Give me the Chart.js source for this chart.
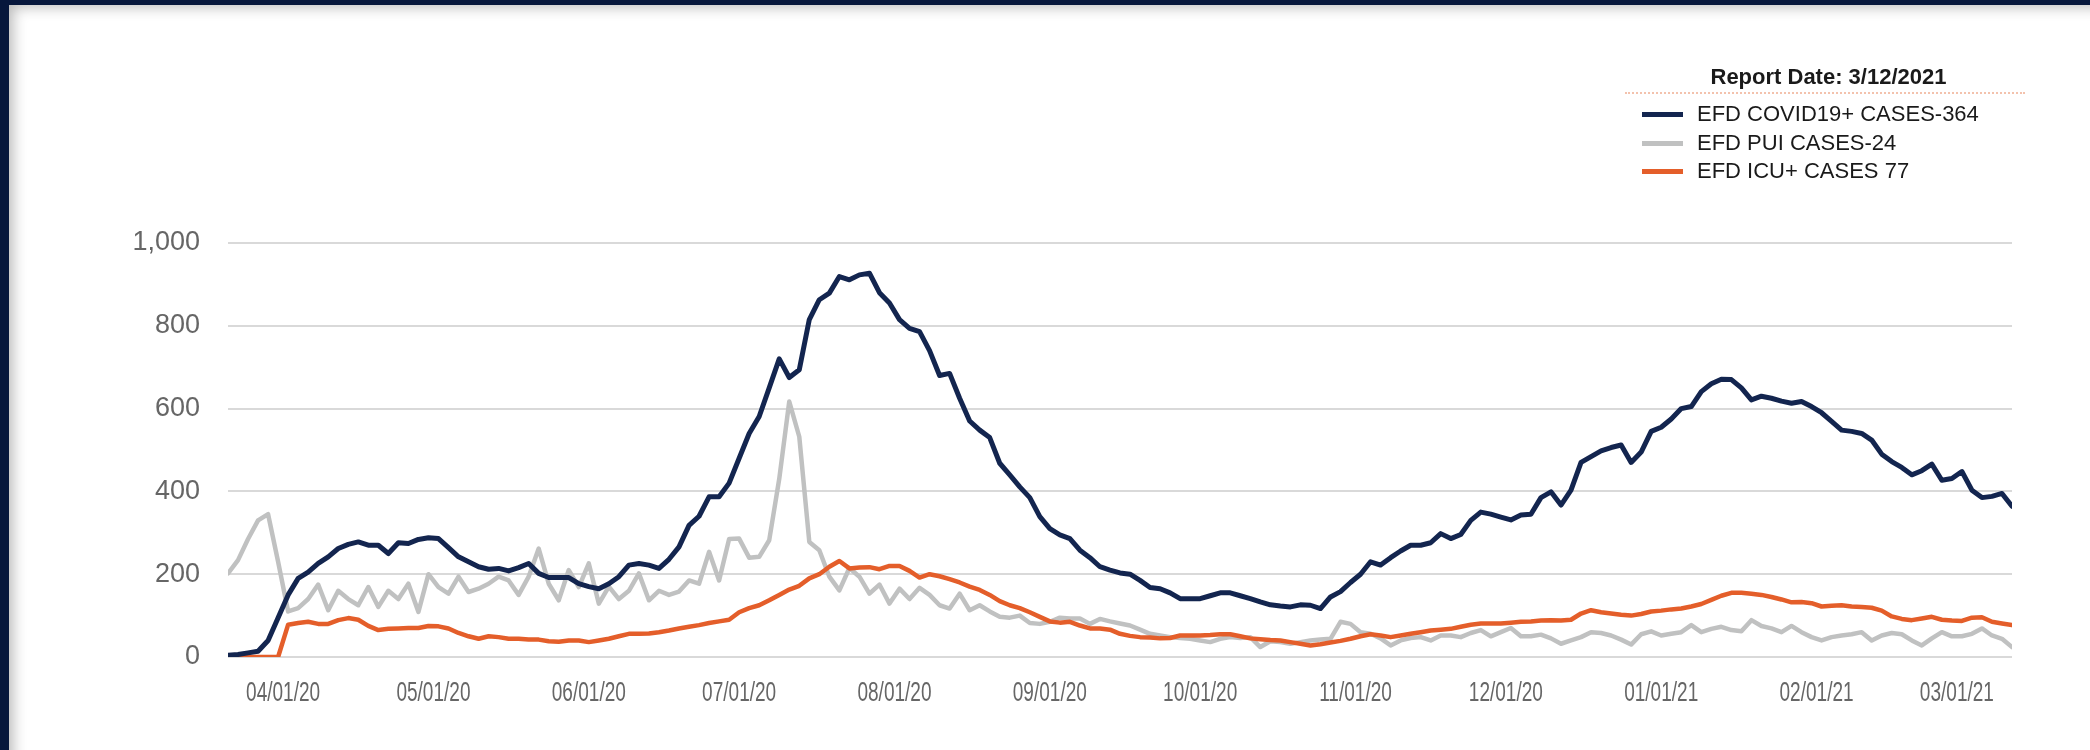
<!DOCTYPE html>
<html>
<head>
<meta charset="utf-8">
<script src="https://cdn.jsdelivr.net/npm/chart.js@4"></script>
<style>
  html, body { margin: 0; padding: 0; }
  body { width: 2090px; height: 750px; background: #07173c; position: relative; overflow: hidden; font-family: "Liberation Sans", Arial, sans-serif; }
  #sheet { position: absolute; left: 9px; top: 5px; right: 0; bottom: 0; background: #fff;
           box-shadow: inset 12px 10px 14px -8px rgba(0,0,0,0.28); }
  #chart { position: absolute; left: 0; top: 0; }
  #legend { position: absolute; left: 1620px; top: 62px; width: 405px; color: #1a1a1a; }
  #legend .title { text-align: center; font-weight: bold; font-size: 22px; line-height: 30px; padding-left: 12px; }
  #legend .sep { border-top: 2px dotted #f3c2ad; margin: 0 0 6px 5px; }
  #legend .item { position: relative; height: 28.5px; font-size: 22px; line-height: 28.5px; padding-left: 77px; }
  #legend .swatch { position: absolute; left: 22px; top: 12px; width: 41px; height: 5px; }
</style>
</head>
<body>
<div id="sheet"></div>
<canvas id="chart" width="2090" height="750"></canvas>
<div id="legend"></div>
<script>
// one value every 2 days, starting 3/21/2020 and ending 3/12/2021
const startDate = '2020-03-21';
const dayStep = 2;

const seriesNames = ['EFD COVID19+ CASES-364', 'EFD PUI CASES-24', 'EFD ICU+ CASES 77'];

const covidCases = [
  4, 6, 10, 14, 40, 95, 150, 190, 205, 226,
  242, 262, 272, 278, 270, 270, 250, 276, 274, 284,
  288, 286, 264, 242, 230, 218, 212, 214, 208, 216,
  226, 202, 192, 192, 192, 177, 170, 165, 177, 194,
  222, 226, 222, 214, 236, 266, 318, 340, 387, 387,
  420, 480, 540, 581, 650, 720, 675, 694, 815, 863,
  879, 919, 911, 923, 927, 880, 855, 815, 794, 786,
  740, 680, 685, 625, 570, 548, 530, 468, 440, 411,
  385, 339, 310, 295, 286, 258, 240, 218, 210, 203,
  200, 185, 168, 165, 155, 141, 141, 141, 148, 155,
  155, 148, 141, 133, 126, 123, 121, 126, 125, 117,
  145, 158, 180, 200, 230, 222, 240, 256, 270, 270,
  276, 298, 286, 296, 330, 350, 345, 338, 331, 343,
  345, 385, 399, 367, 403, 470, 484, 498, 506, 512,
  470, 495, 545, 555, 575, 600, 605, 641, 660, 671,
  670, 650, 621, 630, 625, 618, 613, 617, 605, 590,
  569, 548, 545, 540, 524, 490, 472, 458, 440, 450,
  466, 427, 431, 448, 403, 385, 388, 395, 364
];

const puiCases = [
  202, 234, 285, 330, 345, 230, 110, 118, 140, 175,
  113, 160, 140, 125, 169, 121, 160, 140, 177, 109,
  200, 169, 153, 194, 157, 165, 177, 194, 185, 150,
  194, 262, 177, 137, 210, 169, 226, 129, 170, 140,
  160, 202, 137, 160, 150, 158, 185, 177, 254, 185,
  285, 286, 240, 242, 282, 430, 617, 532, 278, 258,
  194, 161, 215, 194, 153, 175, 129, 165, 140, 167,
  150, 125, 117, 153, 113, 125, 110, 97, 95, 100,
  82, 80, 85, 95, 93, 93, 80, 92, 86, 81,
  76, 66, 56, 52, 48, 46, 44, 40, 36, 44,
  48, 46, 48, 24, 38, 36, 32, 36, 40, 42,
  44, 85, 80, 60, 56, 45, 28, 40, 46, 48,
  40, 52, 52, 48, 58, 65, 50, 60, 70, 50,
  50, 54, 45, 32, 40, 48, 60, 58, 52, 42,
  30, 55, 62, 52, 56, 60, 77, 60, 68, 73,
  65, 62, 89, 75, 69, 60, 75, 60, 48, 40,
  48, 52, 55, 60, 40, 52, 58, 55, 40, 28,
  45, 60, 50, 50, 56, 69, 52, 44, 24
];

const icuCases = [
  0, 0, 0, 0, 0, 0, 78, 82, 85, 80,
  80, 89, 94, 90, 75, 65, 68, 69, 70, 70,
  75, 74, 69, 58, 50, 44, 50, 48, 44, 44,
  42, 42, 38, 37, 40, 40, 36, 40, 44, 50,
  56, 56, 57, 60, 64, 69, 73, 77, 82, 86,
  90, 108, 118, 125, 137, 150, 163, 172, 190, 200,
  218, 232, 214, 216, 217, 212, 220, 220, 208, 192,
  200, 195, 188, 180, 170, 162, 150, 135, 125, 118,
  108, 97, 86, 83, 85, 76, 69, 69, 66, 56,
  51, 48, 47, 45, 46, 52, 52, 52, 53, 55,
  55, 50, 45, 43, 41, 40, 36, 32, 28, 31,
  35, 39, 44, 50, 55, 52, 48, 52, 56, 60,
  64, 66, 68, 73, 78, 81, 81, 81, 83, 85,
  86, 88, 89, 88, 90, 105, 113, 108, 105, 102,
  100, 104, 110, 112, 115, 117, 122, 128, 138, 148,
  155, 155, 153, 150, 145, 139, 132, 133, 130, 122,
  124, 125, 122, 121, 119, 112, 98, 92, 89, 93,
  97, 90, 88, 87, 95, 96, 85, 81, 77
];

const tickDates = ['2020-04-01', '2020-05-01', '2020-06-01', '2020-07-01', '2020-08-01', '2020-09-01',
                   '2020-10-01', '2020-11-01', '2020-12-01', '2021-01-01', '2021-02-01', '2021-03-01'];
const tickLabels = ['04/01/20', '05/01/20', '06/01/20', '07/01/20', '08/01/20', '09/01/20',
                    '10/01/20', '11/01/20', '12/01/20', '01/01/21', '02/01/21', '03/01/21'];
const yTicks = [0, 200, 400, 600, 800, 1000];

const colors = ['#13254f', '#c0c1c1', '#e45e2a'];

const dayOf = s => Math.round((Date.parse(s) - Date.parse(startDate)) / 86400000);
const days = covidCases.map((v, i) => i * dayStep);
const tickDays = tickDates.map(dayOf);

// x labels in the reference are a narrow font, so they are drawn squeezed
const narrowXLabels = {
  id: 'narrowXLabels',
  afterDraw(chart) {
    const xs = chart.scales.x;
    const ctx = chart.ctx;
    ctx.save();
    ctx.font = '28px "Liberation Sans", Arial, sans-serif';
    ctx.fillStyle = '#666666';
    ctx.textAlign = 'center';
    ctx.textBaseline = 'middle';
    xs.ticks.forEach(t => {
      ctx.save();
      ctx.translate(xs.getPixelForValue(t.value), xs.top + 36);
      ctx.scale(0.68, 1);
      ctx.fillText(tickLabels[tickDays.indexOf(t.value)], 0, 0);
      ctx.restore();
    });
    ctx.restore();
  }
};

const chart = new Chart(document.getElementById('chart'), {
  type: 'line',
  data: {
    labels: days,
    datasets: [
      { label: seriesNames[0], data: covidCases, borderColor: colors[0], backgroundColor: colors[0], borderWidth: 5, order: 0 },
      { label: seriesNames[1], data: puiCases, borderColor: colors[1], backgroundColor: colors[1], borderWidth: 4.5, order: 2 },
      { label: seriesNames[2], data: icuCases, borderColor: colors[2], backgroundColor: colors[2], borderWidth: 4.5, order: 1 }
    ]
  },
  options: {
    responsive: false,
    animation: false,
    devicePixelRatio: 1,
    layout: { padding: { top: 243, right: 78, left: 0, bottom: 0 } },
    elements: {
      point: { radius: 0 },
      line: { tension: 0, borderJoinStyle: 'round', borderCapStyle: 'round' }
    },
    plugins: { legend: { display: false }, tooltip: { enabled: false } },
    scales: {
      x: {
        type: 'linear',
        min: 0,
        max: days[days.length - 1],
        grid: { display: false },
        border: { display: false },
        afterBuildTicks: s => { s.ticks = tickDays.map(v => ({ value: v })); },
        afterFit: s => { s.height = 93; },
        ticks: { color: 'rgba(0,0,0,0)', autoSkip: false, maxRotation: 0 }
      },
      y: {
        min: 0,
        max: 1000,
        afterBuildTicks: s => { s.ticks = yTicks.map(v => ({ value: v })); },
        afterFit: s => { s.width = 228; },
        grid: { color: '#d9d9d9', lineWidth: 2, drawTicks: false },
        border: { display: false },
        ticks: {
          padding: 28,
          color: '#666666',
          font: { family: '"Liberation Sans", Arial, sans-serif', size: 27 },
          callback: v => v.toLocaleString('en-US')
        }
      }
    }
  },
  plugins: [narrowXLabels]
});

// legend block (top right)
const legend = document.getElementById('legend');
legend.innerHTML = '<div class="title">Report Date: 3/12/2021</div><div class="sep"></div>' +
  chart.data.datasets.map(d =>
    '<div class="item"><span class="swatch" style="background:' + d.borderColor + '"></span>' + d.label + '</div>'
  ).join('');
</script>
</body>
</html>
